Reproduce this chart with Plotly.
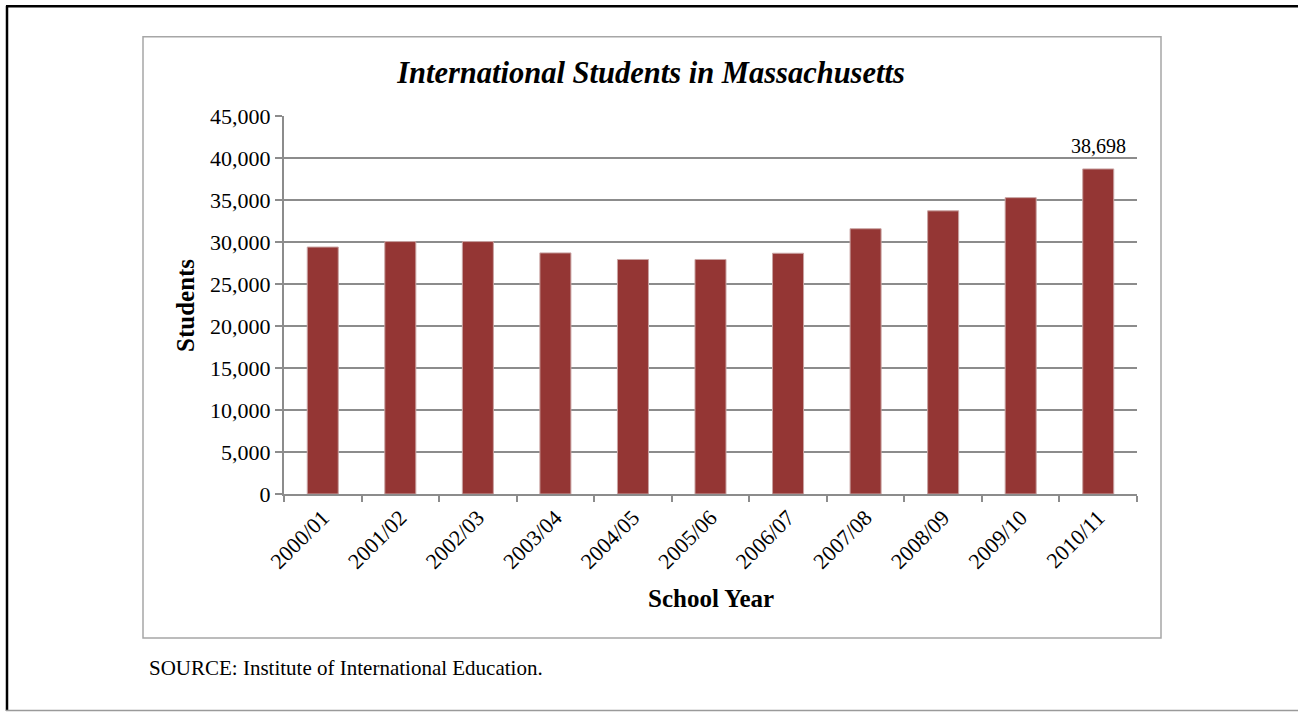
import plotly.graph_objects as go

years = ['2000/01', '2001/02', '2002/03', '2003/04', '2004/05', '2005/06',
         '2006/07', '2007/08', '2008/09', '2009/10', '2010/11']
students = [29400, 30050, 30050, 28700, 27920, 27920,
            28660, 31580, 33710, 35280, 38698]
labelled_year = '2010/11'
labelled_value = 38698

W, H = 1298, 713
L, R, T, B = 284, 1137, 115.5, 494.5   # plot area in pixels


def px_x(x):
    return (x - L) / (R - L)


def px_y(y):
    return (B - y) / (B - T)


serif = 'Liberation Serif, Times New Roman, serif'

fig = go.Figure()
fig.add_trace(go.Bar(
    x=years,
    y=students,
    marker_color='#943634',
    marker_line=dict(color='#c9a3a2', width=1),
    hoverinfo='x+y',
))

fig.add_annotation(
    x=labelled_year, y=labelled_value, xref='x', yref='y',
    text=f'{labelled_value:,}', showarrow=False,
    yanchor='bottom', yshift=10,
    font=dict(family=serif, size=20, color='black'),
)

# axis titles and source note
fig.add_annotation(
    x=px_x(186), y=px_y(306), xref='paper', yref='paper',
    xanchor='center', yanchor='middle',
    text='<b>Students</b>', textangle=-90, showarrow=False,
    font=dict(family=serif, size=25, color='black'),
)
fig.add_annotation(
    x=px_x(711), y=px_y(599), xref='paper', yref='paper',
    xanchor='center', yanchor='middle',
    text='<b>School Year</b>', showarrow=False,
    font=dict(family=serif, size=25, color='black'),
)
fig.add_annotation(
    x=px_x(147), y=px_y(669), xref='paper', yref='paper',
    xanchor='left', yanchor='middle',
    text='SOURCE: Institute of International Education.',
    showarrow=False, font=dict(family=serif, size=21, color='black'),
)

# inner chart frame
fig.add_shape(type='rect', xref='paper', yref='paper',
              x0=px_x(143), x1=px_x(1161), y0=px_y(36), y1=px_y(639),
              line=dict(color='#a6a6a6', width=1.5), layer='below')
# outer page frame
fig.add_shape(type='line', xref='paper', yref='paper',
              x0=px_x(7), x1=px_x(7), y0=px_y(5), y1=px_y(712),
              line=dict(color='black', width=2.5))
fig.add_shape(type='line', xref='paper', yref='paper',
              x0=px_x(6), x1=px_x(1298), y0=px_y(5.5), y1=px_y(5.5),
              line=dict(color='black', width=2.5))
fig.add_shape(type='line', xref='paper', yref='paper',
              x0=px_x(6), x1=px_x(1298), y0=px_y(711.5), y1=px_y(711.5),
              line=dict(color='#9a9a9a', width=1.5))

fig.update_layout(
    width=W, height=H,
    margin=dict(l=L, r=W - R, t=T, b=H - B),
    paper_bgcolor='white', plot_bgcolor='white',
    bargap=0.6,
    showlegend=False,
    title=dict(text='<b><i>International Students in Massachusetts</i></b>',
               x=651 / W, y=1 - 72 / H, xanchor='center', yanchor='middle',
               font=dict(family=serif, size=30.5, color='black')),
    font=dict(family=serif, color='black'),
)
fig.update_xaxes(
    tickangle=-45, tickfont=dict(family=serif, size=22, color='black'),
    showline=True, linecolor='#8c8c8c', linewidth=2,
    ticks='outside', tickson='boundaries', ticklen=6, tickcolor='#8c8c8c',
    tickwidth=1.5, showgrid=False,
)
fig.update_yaxes(
    range=[0, 45000], dtick=5000, tickformat=',',
    tickfont=dict(family=serif, size=22, color='black'),
    showline=True, linecolor='#8c8c8c', linewidth=2,
    ticks='outside', ticklen=7, tickcolor='#8c8c8c', tickwidth=1.5,
    showgrid=True, gridcolor='#8c8c8c', gridwidth=1.5, zeroline=False,
)

fig.write_html('out.html', config={'displayModeBar': False},
               post_script="document.body.style.margin='0';"
                           "document.body.style.overflow='hidden';")
